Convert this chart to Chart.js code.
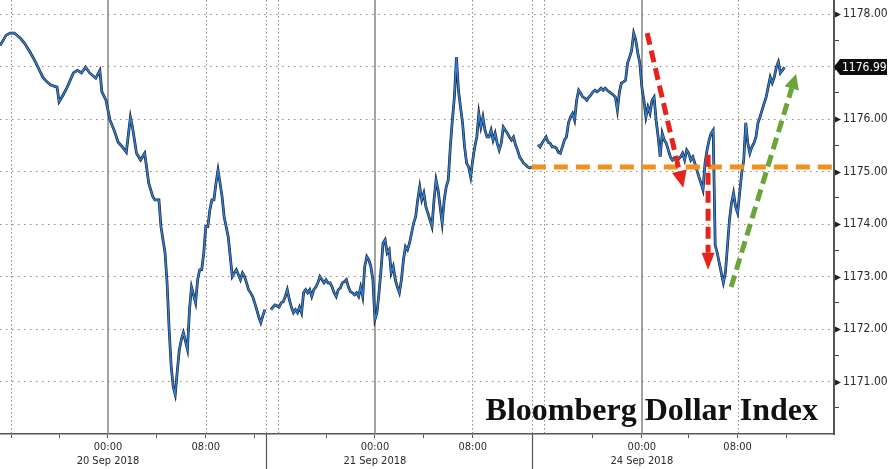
<!DOCTYPE html>
<html>
<head>
<meta charset="utf-8">
<title>Bloomberg Dollar Index</title>
<script src="https://cdn.jsdelivr.net/npm/chart.js@4.4.0/dist/chart.umd.min.js"></script>
<style>
  html, body { margin: 0; padding: 0; background: #fff; }
  canvas { display: block; }
</style>
</head>
<body>
<canvas id="dollarChart" width="890" height="469"></canvas>
<script>
// 10 minute bars, session gaps and the weekend squeezed out (bar = position on the x axis)
const sep20Bars = [0, 3, 5, 7, 10, 12, 15, 17, 20, 21, 23, 25, 28, 29, 31, 33, 36, 38, 40, 42,
  44, 47, 49, 50, 52, 53, 54, 56, 58, 60, 62, 64, 65, 67, 69, 71, 73, 75, 76, 78,
  79, 81, 82, 83, 84, 85, 86, 87, 88, 89, 90, 92, 93, 94, 96, 97, 98, 99, 100, 101,
  102, 103, 104, 105, 106, 107, 108, 109, 110, 111, 112, 113, 114, 115, 116, 118, 119, 120, 121, 122,
  123, 124, 125, 126, 127, 128, 129, 130]
const sep20Close = [1177.40, 1177.60, 1177.64, 1177.64, 1177.54, 1177.45, 1177.26, 1177.12, 1176.88, 1176.80,
  1176.71, 1176.65, 1176.61, 1176.33, 1176.46, 1176.61, 1176.88, 1176.93, 1176.88, 1176.99,
  1176.88, 1176.78, 1176.93, 1176.52, 1176.36, 1176.17, 1175.98, 1175.79, 1175.56, 1175.47,
  1175.37, 1176.04, 1175.85, 1175.35, 1175.22, 1175.35, 1174.78, 1174.52, 1174.46, 1174.46,
  1173.95, 1173.45, 1172.88, 1172.00, 1171.30, 1170.90, 1170.75, 1171.20, 1171.60, 1171.80,
  1171.93, 1171.61, 1172.37, 1172.80, 1172.50, 1172.94, 1173.13, 1173.13, 1173.45, 1173.95,
  1173.95, 1174.27, 1174.46, 1174.46, 1174.78, 1175.03, 1174.78, 1174.52, 1174.14, 1173.95,
  1173.76, 1173.38, 1173.00, 1173.07, 1173.13, 1172.94, 1173.07, 1173.00, 1172.88, 1172.75,
  1172.69, 1172.62, 1172.50, 1172.37, 1172.23, 1172.12, 1172.25, 1172.37]

const sep21Start = 133
const sep21Close = [1172.37, 1172.42, 1172.46, 1172.44, 1172.42, 1172.50, 1172.52, 1172.62, 1172.75, 1172.56,
  1172.42, 1172.31, 1172.37, 1172.31, 1172.42, 1172.31, 1172.69, 1172.75, 1172.69, 1172.75,
  1172.62, 1172.75, 1172.80, 1172.88, 1173.00, 1172.94, 1172.88, 1172.94, 1172.88, 1172.88,
  1172.80, 1172.69, 1172.62, 1172.75, 1172.78, 1172.88, 1172.90, 1172.94, 1172.80, 1172.71,
  1172.69, 1172.65, 1172.69, 1172.62, 1172.80, 1172.62, 1173.19, 1173.38, 1173.32, 1173.19,
  1172.94, 1172.18, 1172.31, 1172.69, 1173.13, 1173.64, 1173.70, 1173.45, 1173.51, 1173.07,
  1173.19, 1172.94, 1172.80, 1172.69, 1172.94, 1173.32, 1173.57, 1173.51, 1173.64, 1173.83,
  1174.02, 1174.14, 1174.46, 1174.71, 1174.46, 1174.59, 1174.33, 1174.21, 1174.08, 1173.95,
  1174.46, 1174.84, 1174.65, 1174.33, 1174.02, 1174.46, 1174.71, 1174.84, 1175.47, 1175.98,
  1176.42, 1177.18, 1176.55, 1176.23, 1175.93, 1175.47, 1175.16, 1175.09, 1174.90, 1175.22,
  1175.47, 1175.66, 1176.11, 1175.85, 1176.04, 1175.79, 1175.66, 1175.66, 1175.79, 1175.60,
  1175.73, 1175.54, 1175.41, 1175.54, 1175.85, 1175.79, 1175.73, 1175.66, 1175.60, 1175.66,
  1175.51, 1175.41, 1175.28, 1175.22, 1175.16, 1175.13, 1175.09, 1175.07, 1175.09]

const sep24Start = 264
const sep24Close = [1175.51, 1175.47, 1175.54, 1175.60, 1175.66, 1175.56, 1175.54, 1175.47, 1175.47, 1175.45,
  1175.37, 1175.35, 1175.47, 1175.60, 1175.66, 1175.93, 1176.04, 1176.11, 1175.98, 1176.36,
  1176.55, 1176.49, 1176.42, 1176.40, 1176.36, 1176.42, 1176.46, 1176.52, 1176.55, 1176.52,
  1176.55, 1176.59, 1176.55, 1176.59, 1176.55, 1176.52, 1176.49, 1176.46, 1176.42, 1176.17,
  1176.52, 1176.69, 1176.71, 1176.74, 1177.07, 1177.18, 1177.31, 1177.64, 1177.51, 1177.26,
  1177.07, 1176.61, 1176.36, 1176.04, 1176.23, 1176.11, 1176.36, 1176.42, 1175.98, 1175.66,
  1175.28, 1175.73, 1175.60, 1175.54, 1175.41, 1175.28, 1175.22, 1175.26, 1175.22, 1175.24,
  1175.28, 1175.35, 1175.22, 1175.41, 1175.35, 1175.22, 1175.28, 1175.16, 1175.03, 1174.90,
  1174.78, 1174.65, 1175.16, 1175.41, 1175.60, 1175.73, 1175.79, 1173.60, 1173.45, 1173.26,
  1173.07, 1172.88, 1173.07, 1173.57, 1174.08, 1174.40, 1174.59, 1174.33, 1174.21, 1174.59,
  1174.97, 1175.22, 1175.93, 1175.54, 1175.35, 1175.47, 1175.54, 1175.66, 1175.93, 1176.04,
  1176.17, 1176.30, 1176.42, 1176.61, 1176.80, 1176.69, 1176.80, 1176.99, 1177.09, 1176.88,
  1176.93, 1176.99]

// x axis
const timeTicks = [5.5, 29, 53, 77, 101, 125, 160, 184, 208, 232, 291, 315, 338, 362, 386]
const timeLabels = ['', '', '00:00', '', '08:00', '', '', '00:00', '', '08:00', '', '00:00', '', '08:00', '']
const dateLabels = ['', '', '20 Sep 2018', '', '', '', '', '21 Sep 2018', '', '', '', '24 Sep 2018', '', '', '']
const dayStartBars = [53, 184, 315]
const dottedBars = [5.5, 101, 130.5, 136.3, 231.4, 261.3, 267.2, 362.3]
const sessionBreakBars = [130.5, 261]

// y axis
const priceTicks = [1171, 1172, 1173, 1174, 1175, 1176, 1177, 1178]

// annotations, in (bar, price)
const fridayClose = 1175.09
const redArrowDrop1 = [[317.6, 1177.64], [335.3, 1174.69]]
const redArrowDrop2 = [[347.5, 1175.32], [347.5, 1173.13]]
const greenArrowRise = [[358.8, 1172.80], [390.7, 1176.86]]

const lastClose = sep24Close[sep24Close.length - 1]

const toPoints = (bars, closes) => closes.map((c, i) => ({ x: bars[i], y: c }))
const series = [].concat(
  toPoints(sep20Bars, sep20Close),
  [{ x: 131.5, y: null }],
  toPoints(sep21Close.map((_, i) => sep21Start + i), sep21Close),
  [{ x: 262.5, y: null }],
  toPoints(sep24Close.map((_, i) => sep24Start + i), sep24Close)
)

const AXIS_FONT = '"DejaVu Sans Condensed", "DejaVu Sans", sans-serif'

function drawArrow(ctx, x1, y1, x2, y2, color, headLen, headWidth) {
  const ang = Math.atan2(y2 - y1, x2 - x1)
  const bx = x2 - Math.cos(ang) * headLen
  const by = y2 - Math.sin(ang) * headLen
  ctx.save()
  ctx.strokeStyle = color
  ctx.fillStyle = color
  ctx.lineWidth = 5
  ctx.lineCap = 'butt'
  ctx.setLineDash([12, 6])
  ctx.beginPath()
  ctx.moveTo(x1, y1)
  ctx.lineTo(bx, by)
  ctx.stroke()
  ctx.setLineDash([])
  const nx = -Math.sin(ang) * headWidth / 2
  const ny = Math.cos(ang) * headWidth / 2
  ctx.beginPath()
  ctx.moveTo(x2, y2)
  ctx.lineTo(bx + nx, by + ny)
  ctx.lineTo(bx - nx, by - ny)
  ctx.closePath()
  ctx.fill()
  ctx.restore()
}

const extrasPlugin = {
  id: 'extras',
  beforeDatasetsDraw(chart) {
    const { ctx, chartArea: a, scales: { x } } = chart
    ctx.save()
    // dotted session gridlines
    ctx.strokeStyle = '#8c8c8c'
    ctx.lineWidth = 1
    ctx.setLineDash([1.5, 2.5])
    dottedBars.forEach(b => {
      const px = Math.round(x.getPixelForValue(b)) + 0.5
      ctx.beginPath(); ctx.moveTo(px, a.top); ctx.lineTo(px, a.bottom); ctx.stroke()
    })
    // solid day lines
    ctx.setLineDash([])
    ctx.strokeStyle = '#858585'
    ctx.lineWidth = 1.5
    dayStartBars.forEach(b => {
      const px = Math.round(x.getPixelForValue(b))
      ctx.beginPath(); ctx.moveTo(px, a.top); ctx.lineTo(px, a.bottom); ctx.stroke()
    })
    // day separators in the label strip
    ctx.strokeStyle = '#555'
    ctx.lineWidth = 1.2
    sessionBreakBars.forEach(b => {
      const px = Math.round(x.getPixelForValue(b)) + 0.5
      ctx.beginPath(); ctx.moveTo(px, a.bottom); ctx.lineTo(px, chart.height); ctx.stroke()
    })
    ctx.restore()
  },
  afterDatasetsDraw(chart) {
    const { ctx, chartArea: a, scales: { x, y } } = chart
    // friday close level
    const oy = y.getPixelForValue(fridayClose)
    ctx.save()
    ctx.strokeStyle = '#f0901e'
    ctx.lineWidth = 5
    ctx.setLineDash([14, 8])
    ctx.beginPath()
    ctx.moveTo(x.getPixelForValue(261), oy)
    ctx.lineTo(a.right, oy)
    ctx.stroke()
    ctx.restore()

    const arrow = (pts, color, hl, hw) => drawArrow(ctx,
      x.getPixelForValue(pts[0][0]), y.getPixelForValue(pts[0][1]),
      x.getPixelForValue(pts[1][0]), y.getPixelForValue(pts[1][1]), color, hl, hw)
    arrow(redArrowDrop1, '#e5231f', 17, 15)
    arrow(redArrowDrop2, '#e5231f', 17, 13)
    arrow(greenArrowRise, '#6aa53a', 15, 15)
  },
  afterDraw(chart) {
    const { ctx, chartArea: a, scales: { y } } = chart
    ctx.save()
    // title
    ctx.font = 'bold 32px "Liberation Serif", "DejaVu Serif", serif'
    ctx.fillStyle = '#111'
    ctx.textAlign = 'right'
    ctx.textBaseline = 'alphabetic'
    ctx.fillText('Bloomberg Dollar Index', 818, 420)

    // major tick pointers
    ctx.fillStyle = '#222'
    priceTicks.forEach(v => {
      const py = Math.round(y.getPixelForValue(v)) + 0.5
      ctx.beginPath()
      ctx.moveTo(a.right + 1, py - 3)
      ctx.lineTo(a.right + 7, py)
      ctx.lineTo(a.right + 1, py + 3)
      ctx.closePath()
      ctx.fill()
    })

    // last value tag
    const ly = Math.round(y.getPixelForValue(lastClose))
    ctx.fillStyle = '#0d0d0d'
    ctx.beginPath()
    ctx.moveTo(a.right, ly)
    ctx.lineTo(a.right + 6, ly - 8)
    ctx.lineTo(chart.width - 3, ly - 8)
    ctx.lineTo(chart.width - 3, ly + 8)
    ctx.lineTo(a.right + 6, ly + 8)
    ctx.closePath()
    ctx.fill()
    ctx.fillStyle = '#fff'
    ctx.font = '12px ' + AXIS_FONT
    ctx.textAlign = 'left'
    ctx.textBaseline = 'middle'
    ctx.fillText(lastClose.toFixed(2), a.right + 8, ly + 0.5)
    ctx.restore()
  }
}

const ctx = document.getElementById('dollarChart').getContext('2d')
const chart = new Chart(ctx, {
  type: 'line',
  data: {
    datasets: [{
      label: 'Bloomberg Dollar Index',
      data: series,
      borderColor: '#2f80dc',
      borderWidth: 1.5,
      pointRadius: 0,
      tension: 0,
      spanGaps: false
    }, {
      label: 'outline',
      data: series,
      borderColor: '#1a1a1a',
      borderWidth: 2.7,
      pointRadius: 0,
      tension: 0,
      spanGaps: false
    }]
  },
  options: {
    responsive: false,
    animation: false,
    devicePixelRatio: 1,
    layout: { padding: 0 },
    plugins: { legend: { display: false }, tooltip: { enabled: false } },
    scales: {
      x: {
        type: 'linear',
        position: 'bottom',
        min: 0,
        max: 409.3,
        afterBuildTicks: s => { s.ticks = timeTicks.map(v => ({ value: v })) },
        afterFit: s => { s.height = 35; s.paddingLeft = 0; s.paddingRight = 0 },
        grid: { drawOnChartArea: false, drawTicks: true, tickLength: 4, tickColor: '#555', tickWidth: 1 },
        border: { display: true, color: '#555', width: 1.5 },
        ticks: {
          autoSkip: false,
          maxRotation: 0,
          padding: 3,
          color: '#2a2a2a',
          font: { family: AXIS_FONT, size: 11 },
          callback: value => {
            const i = timeTicks.indexOf(value)
            if (i < 0 || !timeLabels[i]) return ''
            return dateLabels[i] ? [timeLabels[i], dateLabels[i]] : timeLabels[i]
          }
        }
      },
      y: {
        type: 'linear',
        position: 'right',
        min: 1170,
        max: 1178.27,
        afterBuildTicks: s => {
          const t = []
          priceTicks.forEach(v => { t.push({ value: v - 0.5 }); t.push({ value: v }) })
          s.ticks = t
        },
        afterFit: s => { s.width = 56; s.paddingTop = 0; s.paddingBottom = 0 },
        grid: {
          drawOnChartArea: true,
          drawTicks: true,
          tickLength: 5,
          color: c => Number.isInteger(c.tick.value) ? '#8c8c8c' : 'rgba(0,0,0,0)',
          tickColor: c => Number.isInteger(c.tick.value) ? 'rgba(0,0,0,0)' : '#444',
          lineWidth: 1,
          tickWidth: 1
        },
        border: { display: true, color: '#555', width: 2, dash: [1.5, 4.5] },
        ticks: {
          autoSkip: false,
          padding: 4,
          color: '#2a2a2a',
          font: { family: AXIS_FONT, size: 12 },
          callback: value => (Number.isInteger(value) && Math.abs(value - lastClose) > 0.2) ? value.toFixed(2) : ''
        }
      }
    }
  },
  plugins: [extrasPlugin]
})
</script>
</body>
</html>
